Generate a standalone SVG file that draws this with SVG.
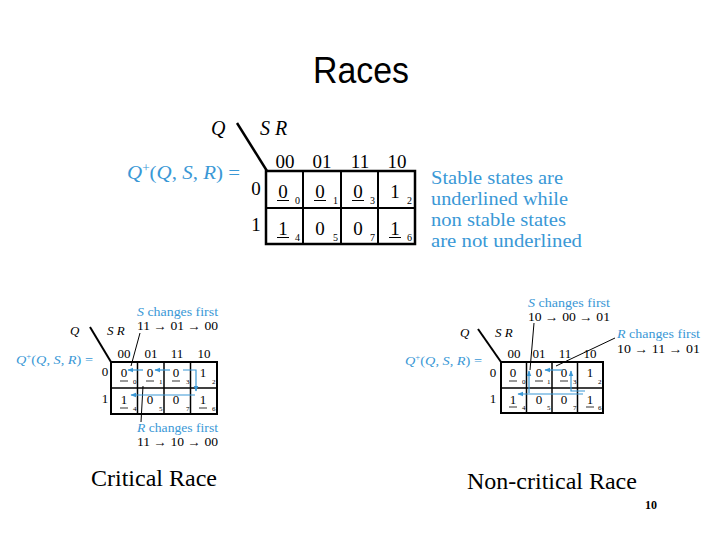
<svg xmlns="http://www.w3.org/2000/svg" width="720" height="540" viewBox="0 0 720 540">
<style>
.t{font-family:"Liberation Serif","Times New Roman",serif;fill:#000}
.it{font-style:italic}
.blue{fill:#3a98d6}
.g{fill:none;stroke:#000}
.ul{stroke:#000;stroke-width:1}
.ptr{stroke:#000;stroke-width:1;fill:none}
.arr{stroke:#3a98d6;stroke-width:1.2;fill:none;marker-end:url(#ah)}
.lbl{font-size:12px}
</style>
<defs>
<marker id="ah" viewBox="0 0 10 10" refX="9" refY="5" markerWidth="6" markerHeight="6" markerUnits="userSpaceOnUse" orient="auto">
<path d="M0,1 L10,5 L0,9 z" fill="#3a98d6"/>
</marker>
</defs>
<rect width="720" height="540" fill="#fff"/>

<text id="title" x="313" y="83" textLength="96" lengthAdjust="spacingAndGlyphs" style="font-family:'Liberation Sans',Arial,sans-serif;font-size:36px;fill:#000">Races</text>

<g id="main-map">
<text class="t it" x="211" y="135" style="font-size:20px">Q</text>
<text class="t it" x="260" y="135" style="font-size:20px">S R</text>
<line x1="237" y1="123" x2="267" y2="171" stroke="#000" stroke-width="2.5"/>
<text class="t blue" x="127" y="179" textLength="113" lengthAdjust="spacingAndGlyphs" style="font-size:19px"><tspan class="it">Q</tspan><tspan dy="-7" style="font-size:12px">+</tspan><tspan dy="7">(</tspan><tspan class="it">Q</tspan>, <tspan class="it">S</tspan>, <tspan class="it">R</tspan>) =</text>
<g class="t" style="font-size:19px" text-anchor="middle">
<text x="285" y="168">00</text><text x="322" y="168">01</text><text x="360" y="168">11</text><text x="397" y="168">10</text>
<text x="256" y="195">0</text><text x="256" y="231">1</text>
<text x="283" y="198">0</text><text x="320" y="198">0</text><text x="358" y="198">0</text><text x="395" y="198">1</text>
<text x="283" y="235">1</text><text x="320" y="235">0</text><text x="358" y="235">0</text><text x="395" y="235">1</text>
</g>
<g class="t" style="font-size:10px">
<text x="295" y="204">0</text><text x="333" y="204">1</text><text x="370" y="204">3</text><text x="407" y="204">2</text>
<text x="295" y="241">4</text><text x="333" y="241">5</text><text x="370" y="241">7</text><text x="407" y="241">6</text>
</g>
<g class="ul">
<line x1="277" y1="200.5" x2="289" y2="200.5"/><line x1="314" y1="200.5" x2="326" y2="200.5"/><line x1="352" y1="200.5" x2="364" y2="200.5"/>
<line x1="277" y1="237.5" x2="289" y2="237.5"/><line x1="389" y1="237.5" x2="401" y2="237.5"/>
</g>
<g class="g">
<rect x="266" y="171" width="149" height="73" stroke-width="2.5"/>
<line x1="303" y1="171" x2="303" y2="244" stroke-width="2"/>
<line x1="341" y1="171" x2="341" y2="244" stroke-width="2"/>
<line x1="378" y1="171" x2="378" y2="244" stroke-width="2"/>
<line x1="266" y1="208" x2="415" y2="208" stroke-width="2"/>
</g>
</g>

<g id="note" class="t blue" style="font-size:19px">
<text x="431" y="184" textLength="132" lengthAdjust="spacingAndGlyphs">Stable states are</text>
<text x="431" y="205" textLength="137" lengthAdjust="spacingAndGlyphs">underlined while</text>
<text x="431" y="226" textLength="135" lengthAdjust="spacingAndGlyphs">non stable states</text>
<text x="431" y="247" textLength="151" lengthAdjust="spacingAndGlyphs">are not underlined</text>
</g>

<g id="critical-map">
<text class="t it" x="70" y="335" style="font-size:13px">Q</text>
<text class="t it" x="107" y="335" style="font-size:13px">S R</text>
<line x1="90" y1="327" x2="111" y2="362" stroke="#000" stroke-width="2"/>
<text class="t blue" x="16" y="364" textLength="77" lengthAdjust="spacingAndGlyphs" style="font-size:13px"><tspan class="it">Q</tspan><tspan dy="-5" style="font-size:8px">+</tspan><tspan dy="5">(</tspan><tspan class="it">Q</tspan>, <tspan class="it">S</tspan>, <tspan class="it">R</tspan>) =</text>
<text class="t blue lbl" x="137" y="316" textLength="81" lengthAdjust="spacingAndGlyphs"><tspan class="it">S</tspan> changes first</text>
<text class="t lbl" x="137" y="330" textLength="81" lengthAdjust="spacingAndGlyphs">11 → 01 → 00</text>
<text class="t blue lbl" x="137" y="432" textLength="81" lengthAdjust="spacingAndGlyphs"><tspan class="it">R</tspan> changes first</text>
<text class="t lbl" x="137" y="446" textLength="81" lengthAdjust="spacingAndGlyphs">11 → 10 → 00</text>
<g class="t" style="font-size:13px" text-anchor="middle">
<text x="124" y="358">00</text><text x="151" y="358">01</text><text x="177" y="358">11</text><text x="204" y="358">10</text>
<text x="105" y="376">0</text><text x="105" y="403">1</text>
<text x="124" y="377">0</text><text x="150" y="377">0</text><text x="176" y="377">0</text><text x="203" y="377">1</text>
<text x="124" y="404">1</text><text x="150" y="404">0</text><text x="176" y="404">0</text><text x="203" y="404">1</text>
</g>
<g class="t" style="font-size:7px">
<text x="133" y="384">0</text><text x="159" y="384">1</text><text x="186" y="384">3</text><text x="212" y="384">2</text>
<text x="133" y="411">4</text><text x="159" y="411">5</text><text x="186" y="411">7</text><text x="212" y="411">6</text>
</g>
<g class="ul" style="stroke-width:0.8">
<line x1="120" y1="381" x2="128" y2="381"/><line x1="146" y1="381" x2="154" y2="381"/><line x1="172" y1="381" x2="180" y2="381"/>
<line x1="120" y1="408" x2="128" y2="408"/><line x1="199" y1="408" x2="207" y2="408"/>
</g>
<g class="g">
<rect x="111" y="362" width="106" height="52" stroke-width="2"/>
<line x1="137.5" y1="362" x2="137.5" y2="414" stroke-width="1.5"/>
<line x1="164" y1="362" x2="164" y2="414" stroke-width="1.5"/>
<line x1="190.5" y1="362" x2="190.5" y2="414" stroke-width="1.5"/>
<line x1="111" y1="388" x2="217" y2="388" stroke-width="1.5"/>
</g>
</g>

<g id="noncritical-map">
<text class="t it" x="460" y="337" style="font-size:13px">Q</text>
<text class="t it" x="495" y="337" style="font-size:13px">S R</text>
<line x1="478" y1="329" x2="501" y2="362" stroke="#000" stroke-width="2"/>
<text class="t blue" x="405" y="365" textLength="77" lengthAdjust="spacingAndGlyphs" style="font-size:13px"><tspan class="it">Q</tspan><tspan dy="-5" style="font-size:8px">+</tspan><tspan dy="5">(</tspan><tspan class="it">Q</tspan>, <tspan class="it">S</tspan>, <tspan class="it">R</tspan>) =</text>
<text class="t blue lbl" x="528" y="307" textLength="82" lengthAdjust="spacingAndGlyphs"><tspan class="it">S</tspan> changes first</text>
<text class="t lbl" x="528" y="321" textLength="82" lengthAdjust="spacingAndGlyphs">10 → 00 → 01</text>
<text class="t blue lbl" x="617" y="338" textLength="83" lengthAdjust="spacingAndGlyphs"><tspan class="it">R</tspan> changes first</text>
<text class="t lbl" x="617" y="353" textLength="83" lengthAdjust="spacingAndGlyphs">10 → 11 → 01</text>
<g class="t" style="font-size:13px" text-anchor="middle">
<text x="514" y="358">00</text><text x="539" y="358">01</text><text x="565" y="358">11</text><text x="590" y="358">10</text>
<text x="493" y="377">0</text><text x="493" y="403">1</text>
<text x="513" y="377">0</text><text x="539" y="377">0</text><text x="564" y="377">0</text><text x="590" y="377">1</text>
<text x="513" y="404">1</text><text x="539" y="404">0</text><text x="564" y="404">0</text><text x="590" y="404">1</text>
</g>
<g class="t" style="font-size:7px">
<text x="522" y="384">0</text><text x="547" y="384">1</text><text x="573" y="384">3</text><text x="598" y="384">2</text>
<text x="522" y="410">4</text><text x="547" y="410">5</text><text x="573" y="410">7</text><text x="598" y="410">6</text>
</g>
<g class="ul" style="stroke-width:0.8">
<line x1="509" y1="381" x2="517" y2="381"/><line x1="535" y1="381" x2="543" y2="381"/><line x1="560" y1="381" x2="568" y2="381"/>
<line x1="509" y1="407" x2="517" y2="407"/><line x1="586" y1="407" x2="594" y2="407"/>
</g>
<g class="g">
<rect x="501" y="362" width="102" height="51" stroke-width="2"/>
<line x1="526.5" y1="362" x2="526.5" y2="413" stroke-width="1.5"/>
<line x1="552" y1="362" x2="552" y2="413" stroke-width="1.5"/>
<line x1="577.5" y1="362" x2="577.5" y2="413" stroke-width="1.5"/>
<line x1="501" y1="388" x2="603" y2="388" stroke-width="1.5"/>
</g>
</g>

<g id="connectors">
<line class="ptr" x1="140" y1="333" x2="131" y2="366"/>
<line class="ptr" x1="143" y1="386" x2="141" y2="422"/>
<path class="arr" d="M143,370 L128,370"/>
<path class="arr" d="M170,370 L155,370"/>
<path class="arr" d="M183,370 L196,370 L196,391"/>
<path class="arr" d="M195,395 L131,395"/>
<line class="ptr" x1="534" y1="323" x2="530" y2="370"/>
<line class="ptr" x1="615" y1="338" x2="556" y2="366"/>
<path class="arr" d="M529,393 L529,371"/>
<path class="arr" d="M583,394 L518,394"/>
<path class="arr" d="M585,391 L571,391 L571,371"/>
<path class="arr" d="M563,370 L545,370"/>
</g>

<text id="cap-critical" class="t" x="91" y="486" style="font-size:24px">Critical Race</text>
<text id="cap-noncritical" class="t" x="467" y="489" style="font-size:24px">Non-critical Race</text>
<text id="page" x="645" y="509" style="font-family:'Liberation Serif',serif;font-size:12px;font-weight:bold;fill:#000">10</text>
</svg>
